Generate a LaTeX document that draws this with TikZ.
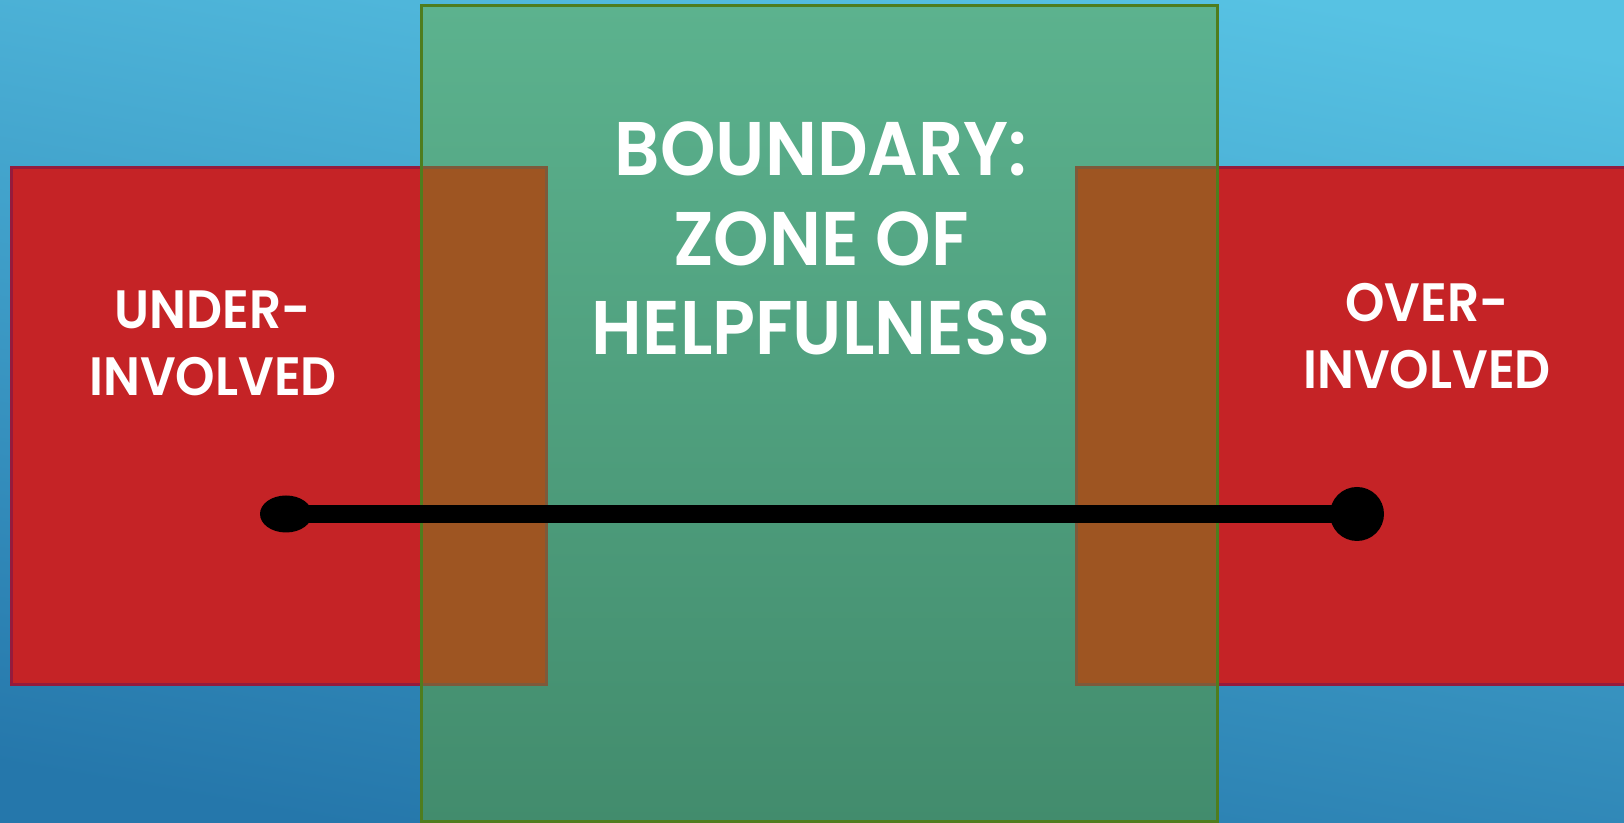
\documentclass[tikz,border=0pt]{standalone}
\usepackage{fontspec}
\setmainfont{Poppins}[BoldFont={Poppins SemiBold}, FakeStretch=0.93]
\usetikzlibrary{shapes.geometric}
\definecolor{skytop}{HTML}{57C2E3}
\definecolor{skybottom}{HTML}{2577AB}
\definecolor{zonetop}{HTML}{5CB28E}
\definecolor{zonebottom}{HTML}{428C6D}
\definecolor{zoneedge}{HTML}{4F7D1E}
\definecolor{riskred}{HTML}{C52326}
\definecolor{riskedge}{HTML}{951B3D}
\definecolor{overlap}{HTML}{9E5522}
\definecolor{overlapedge}{HTML}{7D5A3B}

\begin{document}
\begin{tikzpicture}[x=0.5pt, y=0.5pt,
  risk/.style={rectangle, draw=riskedge, fill=riskred, line width=1.5pt, inner sep=0pt, outer sep=0pt},
  mix/.style={draw=overlapedge, fill=overlap, line width=1.5pt},
  heading/.style={text=white, align=center, font=\bfseries\fontsize{38}{44.75}\selectfont},
  side/.style={text=white, align=center, font=\bfseries\fontsize{27}{33.5}\selectfont}]
\useasboundingbox (0,0) rectangle (1624,823);
\clip (0,0) rectangle (1624,823);
\shade[top color=skytop, bottom color=skybottom, shading angle=-10] (-20,-20) rectangle (1644,843);

\node[rectangle, top color=zonetop, bottom color=zonebottom, inner sep=0pt, outer sep=0pt, minimum width=398pt, minimum height=408pt] (zone) at (819,409) {};
\node[risk, minimum width=267.5pt, minimum height=258.5pt] (under) at (278.5,396.5) {};
\node[risk, minimum width=287pt, minimum height=258.5pt] (over) at (1363,396.5) {};

\draw[mix] (zone.west |- under.north) rectangle (under.south east);
\draw[mix] (over.north west) rectangle (zone.east |- over.south);
\draw[draw=zoneedge, line width=1.5pt] (zone.south west) rectangle (zone.north east);

\node[heading] (zonetext) at (821,584.5) {BOUNDARY:\\ZONE OF\\HELPFULNESS};
\node[side] (undertext) at (213,479.5) {UNDER-\\INVOLVED};
\node[side] (overtext) at (1427,487) {OVER-\\INVOLVED};

\node[ellipse, fill=black, inner sep=0pt, minimum width=26pt, minimum height=18.5pt] (lowend) at (286,309) {};
\node[circle, fill=black, inner sep=0pt, minimum size=27pt] (highend) at (1357,309) {};
\draw[line width=9pt] (lowend.center) -- (highend.center);
\end{tikzpicture}
\end{document}
